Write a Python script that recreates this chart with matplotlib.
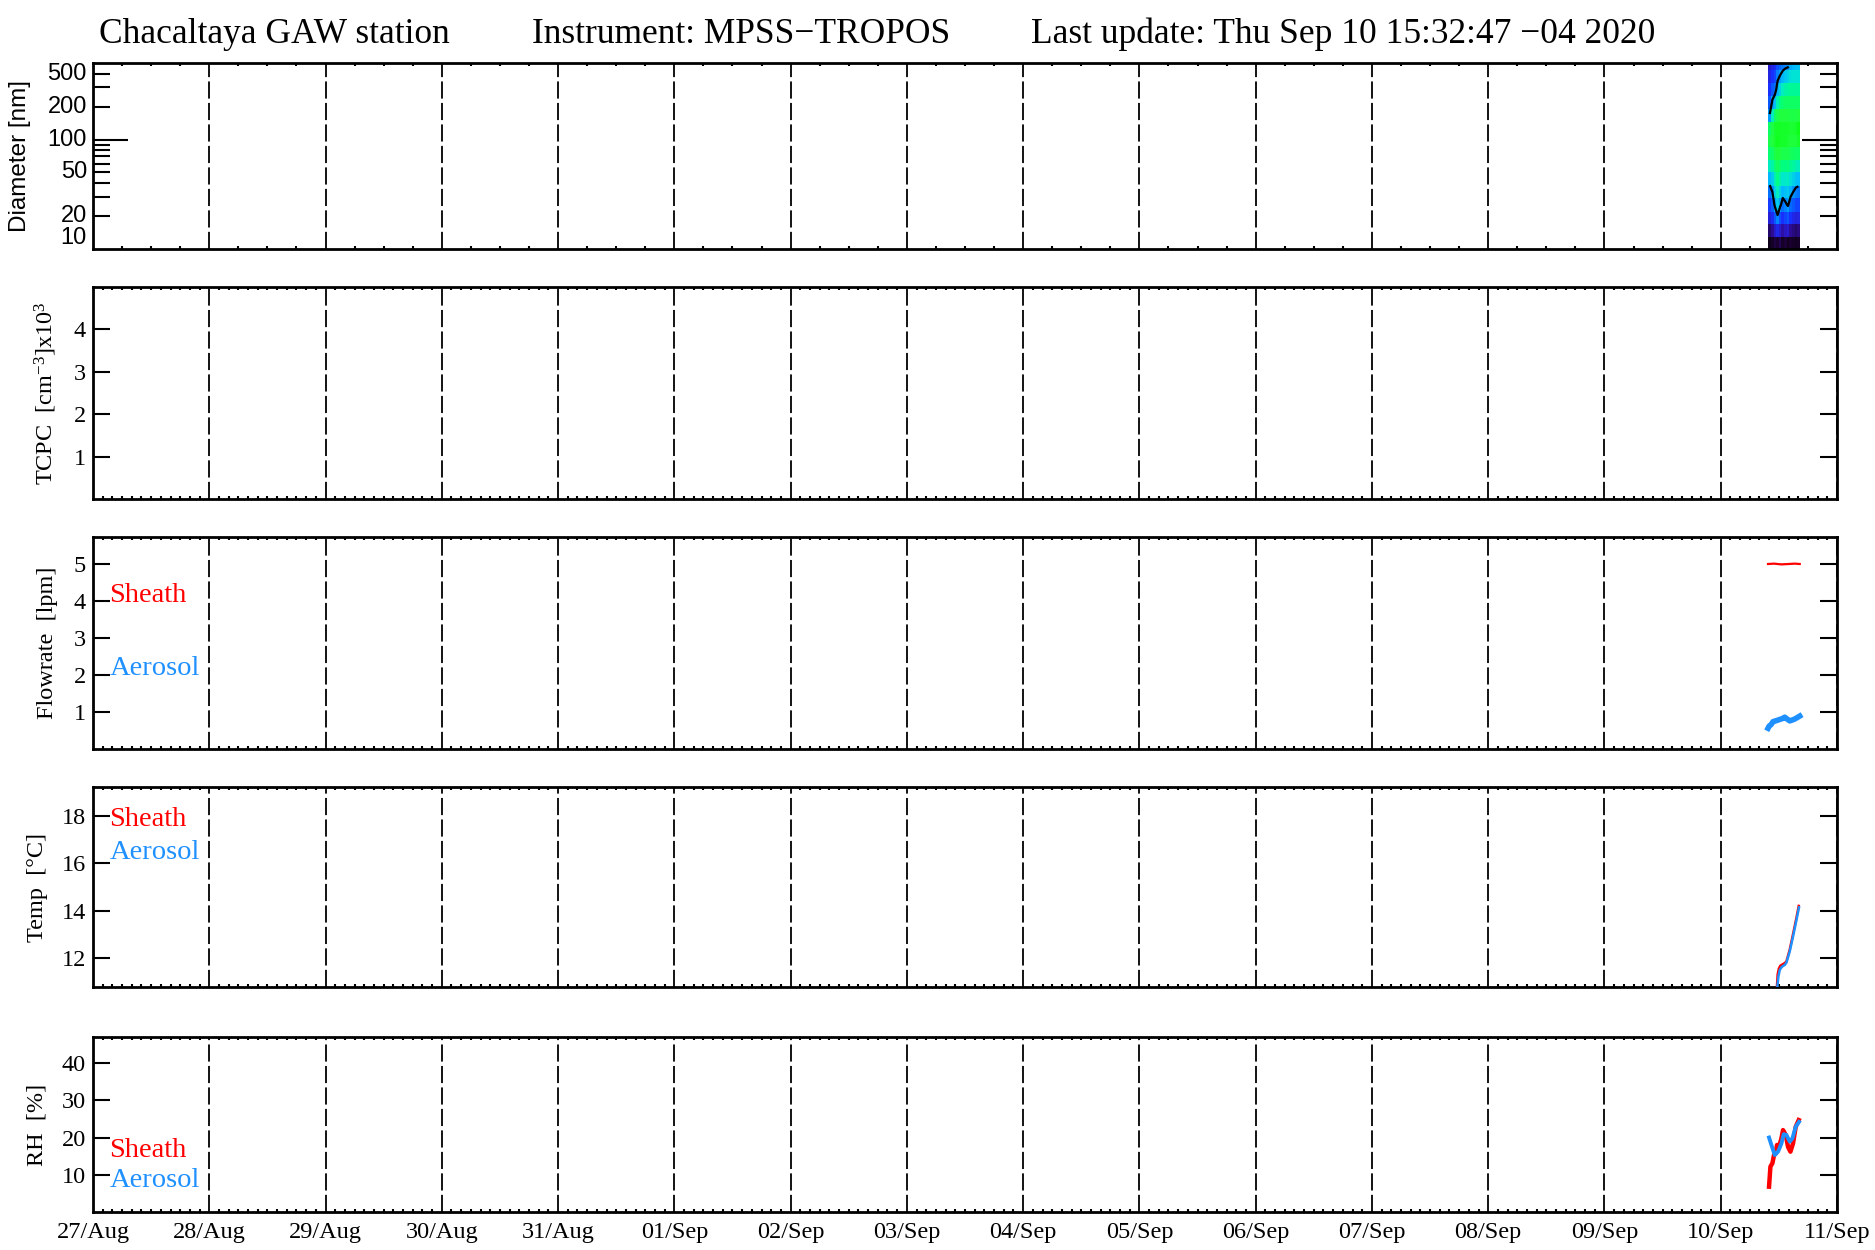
import numpy as np
import matplotlib
matplotlib.use("Agg")
import matplotlib.pyplot as plt
import matplotlib.dates as mdates
from matplotlib.colors import LinearSegmentedColormap
from matplotlib.ticker import FixedLocator, NullFormatter
import datetime as dt

# ---------------- data ----------------
start_day = dt.datetime(2020, 8, 27)
end_day = dt.datetime(2020, 9, 11)
data_day = dt.datetime(2020, 9, 10)

title_parts = ["Chacaltaya GAW station", "Instrument: MPSS\u2212TROPOS",
               "Last update: Thu Sep 10 15:32:47 \u221204 2020"]

# flow rates (hours on 10/Sep)
flow_sheath_h = [9.76, 11.0, 12.5, 14.0, 15.3, 16.31]
flow_sheath = [5.0, 5.01, 4.99, 5.0, 5.01, 5.0]
flow_aer_h = [9.76, 10.0, 10.4, 10.8, 11.3, 11.8, 12.18, 12.7, 13.21, 13.6, 14.24, 14.7, 15.27, 15.8, 16.31]
flow_aer = [0.56, 0.62, 0.66, 0.74, 0.76, 0.78, 0.80, 0.82, 0.86, 0.82, 0.76, 0.78, 0.81, 0.85, 0.89]

# temperatures
temp_sheath_h = [11.6, 11.75, 12.0, 12.3, 12.7, 13.2, 13.56, 14.24, 14.92, 15.63, 16.1]
temp_sheath = [10.79, 11.3, 11.55, 11.67, 11.72, 11.78, 11.85, 12.35, 13.0, 13.7, 14.2]
temp_aer_h = [11.7, 11.9, 12.18, 12.53, 12.86, 13.21, 13.56, 14.24, 14.92, 15.63, 16.16]
temp_aer = [10.79, 11.2, 11.49, 11.6, 11.66, 11.7, 11.8, 12.27, 12.9, 13.6, 14.14]

# relative humidity
rh_sheath_h = [9.97, 10.26, 10.67, 11.0, 11.35, 11.62, 12.03, 12.53, 12.86, 13.42, 13.89, 14.39, 14.92, 15.48, 16.1]
rh_sheath = [6.8, 12.2, 13.1, 15.3, 15.7, 18.0, 17.5, 19.8, 22.0, 20.7, 17.5, 16.2, 18.4, 22.9, 24.7]
rh_aer_h = [9.97, 10.46, 11.15, 11.83, 12.53, 13.0, 13.56, 14.24, 14.8, 15.48, 16.16]
rh_aer = [20.0, 18.0, 15.3, 16.2, 18.4, 20.9, 20.7, 18.9, 19.8, 22.9, 24.2]

# size distribution (normalised log concentration), rows = diameter bins (small->large)
sd_time_edges_h = [9.85, 10.39, 10.93, 11.46, 12.0, 12.54, 13.08, 13.61, 14.15, 14.69, 15.23, 15.76, 16.3]
sd_diam_edges = [10, 13, 17, 22, 29, 38, 50, 65, 85, 110, 145, 190, 250, 330, 430, 500]
sd_values = [
    [0.06, 0.10, 0.14, 0.12, 0.16, 0.10, 0.13, 0.08, 0.12, 0.10, 0.08, 0.10],
    [0.18, 0.22, 0.30, 0.34, 0.30, 0.24, 0.28, 0.30, 0.22, 0.20, 0.18, 0.20],
    [0.32, 0.36, 0.45, 0.53, 0.44, 0.38, 0.42, 0.45, 0.38, 0.34, 0.32, 0.33],
    [0.40, 0.47, 0.57, 0.64, 0.57, 0.50, 0.53, 0.56, 0.49, 0.46, 0.42, 0.42],
    [0.50, 0.55, 0.66, 0.72, 0.66, 0.60, 0.62, 0.64, 0.59, 0.55, 0.52, 0.51],
    [0.60, 0.64, 0.74, 0.79, 0.75, 0.70, 0.71, 0.72, 0.68, 0.65, 0.62, 0.61],
    [0.72, 0.75, 0.82, 0.85, 0.83, 0.80, 0.80, 0.81, 0.78, 0.76, 0.74, 0.73],
    [0.82, 0.84, 0.89, 0.91, 0.90, 0.88, 0.88, 0.88, 0.86, 0.85, 0.84, 0.84],
    [0.88, 0.90, 0.93, 0.95, 0.94, 0.93, 0.93, 0.92, 0.91, 0.91, 0.91, 0.93],
    [0.84, 0.89, 0.93, 0.94, 0.94, 0.93, 0.93, 0.93, 0.92, 0.92, 0.93, 0.96],
    [0.56, 0.72, 0.84, 0.88, 0.90, 0.90, 0.90, 0.90, 0.89, 0.89, 0.89, 0.90],
    [0.45, 0.57, 0.62, 0.74, 0.80, 0.83, 0.84, 0.84, 0.84, 0.84, 0.84, 0.84],
    [0.38, 0.46, 0.50, 0.60, 0.66, 0.72, 0.75, 0.76, 0.77, 0.77, 0.77, 0.77],
    [0.33, 0.38, 0.42, 0.52, 0.56, 0.60, 0.63, 0.66, 0.68, 0.69, 0.69, 0.69],
    [0.30, 0.33, 0.36, 0.44, 0.48, 0.51, 0.53, 0.54, 0.58, 0.60, 0.61, 0.62],
]
diam_ticks = [10, 20, 50, 100, 200, 500]
diam_minor = [20, 30, 40, 50, 60, 70, 80, 90, 200, 300, 400]

RED = "#FF0000"
BLUE = "#1E90FF"
SERIF = ["Liberation Serif", "DejaVu Serif"]
SANS = ["Liberation Sans", "DejaVu Sans"]

plt.rcParams["font.family"] = SERIF
plt.rcParams["mathtext.fontset"] = "custom"
plt.rcParams["mathtext.rm"] = "Liberation Serif"
plt.rcParams["mathtext.it"] = "Liberation Serif:italic"


def hrs(lst):
    return [data_day + dt.timedelta(hours=h) for h in lst]


fig = plt.figure(figsize=(18.75, 12.5), dpi=100)
W, H = 1875.0, 1250.0
left, right = 93, 1837
panels_px = [(63, 249), (287, 499), (537, 749), (787, 987), (1037, 1212)]
axes = []
for top, bot in panels_px:
    ax = fig.add_axes([left / W, 1 - bot / H, (right - left) / W, (bot - top) / H])
    axes.append(ax)

for i, ax in enumerate(axes):
    ax.set_xlim(start_day, end_day)
    for s in ax.spines.values():
        s.set_linewidth(2.0)
    ax.xaxis.set_major_locator(mdates.DayLocator())
    if i == 0:
        ax.xaxis.set_minor_locator(mdates.HourLocator(byhour=[6, 12, 18]))
    else:
        ax.xaxis.set_minor_locator(mdates.HourLocator(byhour=list(range(2, 24, 2))))
    ax.tick_params(axis="x", which="major", length=0, top=True, bottom=True)
    ax.tick_params(axis="x", which="minor", length=2.5, width=1.5, direction="in", top=True, bottom=True)
    ax.grid(axis="x", which="major", color="black", linewidth=1.3, linestyle=(0, (9.5, 2.4)))
    ax.set_axisbelow(True)
    if i < 4:
        ax.xaxis.set_major_formatter(NullFormatter())
    else:
        ax.xaxis.set_major_formatter(mdates.DateFormatter("%d/%b"))
        ax.tick_params(axis="x", which="major", labelsize=17.5, pad=7)
    ax.tick_params(axis="y", which="both", direction="in", left=True, right=True,
                   width=1.5, labelsize=17.5, pad=5)
    ax.tick_params(axis="y", which="major", length=12.2)

# ---- panel 1: size distribution ----
ax = axes[0]
cmap = LinearSegmentedColormap.from_list(
    "sd", [(0.0, "#000000"), (0.12, "#1a0030"), (0.25, "#3010B0"), (0.38, "#1830FF"),
           (0.5, "#0070FF"), (0.6, "#00B8FF"), (0.7, "#00E8D0"), (0.8, "#00FF80"),
           (0.9, "#20FF40"), (1.0, "#00FF00")])
te = hrs(sd_time_edges_h)
vals = np.array(sd_values)
ax.pcolormesh(mdates.date2num(te), sd_diam_edges, vals, cmap=cmap, vmin=0, vmax=1,
              shading="flat", zorder=2)
tc = [(mdates.date2num(te[k]) + mdates.date2num(te[k + 1])) / 2 for k in range(len(te) - 1)]
dc = [np.sqrt(sd_diam_edges[k] * sd_diam_edges[k + 1]) for k in range(len(sd_diam_edges) - 1)]
ax.contour(tc, dc, vals, levels=[0.55], colors="black", linewidths=1.6, zorder=3)
ax.set_yscale("log")
ax.set_ylim(10, 500)
ax.yaxis.set_major_locator(FixedLocator([100]))
ax.yaxis.set_minor_locator(FixedLocator(diam_minor))
ax.yaxis.set_major_formatter(NullFormatter())
ax.yaxis.set_minor_formatter(NullFormatter())
ax.tick_params(axis="y", which="major", length=25)
ax.tick_params(axis="y", which="minor", length=12.2, width=1.5)
for v in diam_ticks:
    va = "top" if v == diam_ticks[-1] else ("bottom" if v == diam_ticks[0] else "center")
    ax.text(-0.0035, v, str(v), transform=ax.get_yaxis_transform(), ha="right", va=va,
            fontsize=17, family=SANS)
fig.text(20 / W, 1 - 156 / H, "Diameter [nm]", rotation=90, ha="center", va="center",
         fontsize=17.5, family=SANS)

# ---- panel 2: TCPC ----
ax = axes[1]
ax.set_ylim(0, 5)
ax.set_yticks([1, 2, 3, 4])
fig.text(46 / W, 1 - 393 / H, "TCPC  [cm$^{-3}$]x10$^{3}$", rotation=90, ha="center",
         va="center", fontsize=17.5)

# ---- panel 3: Flowrate ----
ax = axes[2]
ax.plot(hrs(flow_sheath_h), flow_sheath, color=RED, lw=1.6, zorder=3)
ax.plot(hrs(flow_aer_h), flow_aer, color=BLUE, lw=4, zorder=3)
ax.set_ylim(0, 5.73)
ax.set_yticks([1, 2, 3, 4, 5])
ax.text(0.0095, 0.695, "Sheath", color=RED, fontsize=20.5, transform=ax.transAxes, va="baseline")
ax.text(0.0095, 0.349, "Aerosol", color=BLUE, fontsize=20.5, transform=ax.transAxes, va="baseline")
fig.text(48 / W, 1 - 643 / H, "Flowrate  [lpm]", rotation=90, ha="center", va="center", fontsize=17.5)

# ---- panel 4: Temperature ----
ax = axes[3]
ax.plot(hrs(temp_sheath_h), temp_sheath, color=RED, lw=1.8, zorder=3)
ax.plot(hrs(temp_aer_h), temp_aer, color=BLUE, lw=1.8, zorder=3)
ax.set_ylim(10.77, 19.23)
ax.set_yticks([12, 14, 16, 18])
ax.text(0.0095, 0.805, "Sheath", color=RED, fontsize=20.5, transform=ax.transAxes, va="baseline")
ax.text(0.0095, 0.64, "Aerosol", color=BLUE, fontsize=20.5, transform=ax.transAxes, va="baseline")
fig.text(37 / W, 1 - 887 / H, "Temp  [\u00b0C]", rotation=90, ha="center", va="center", fontsize=17.5)

# ---- panel 5: RH ----
ax = axes[4]
ax.plot(hrs(rh_sheath_h), rh_sheath, color=RED, lw=3.2, zorder=3)
ax.plot(hrs(rh_aer_h), rh_aer, color=BLUE, lw=2.8, zorder=3)
ax.set_ylim(0, 47)
ax.set_yticks([10, 20, 30, 40])
ax.text(0.0095, 0.314, "Sheath", color=RED, fontsize=20.5, transform=ax.transAxes, va="baseline")
ax.text(0.0095, 0.143, "Aerosol", color=BLUE, fontsize=20.5, transform=ax.transAxes, va="baseline")
fig.text(37 / W, 1 - 1125 / H, "RH  [%]", rotation=90, ha="center", va="center", fontsize=17.5)

# ---- title ----
for xpx, txt in zip([99, 532, 1031], title_parts):
    fig.text(xpx / W, 1 - 43 / H, txt, ha="left", va="baseline", fontsize=25.5)

fig.savefig("out.png", dpi=100)
